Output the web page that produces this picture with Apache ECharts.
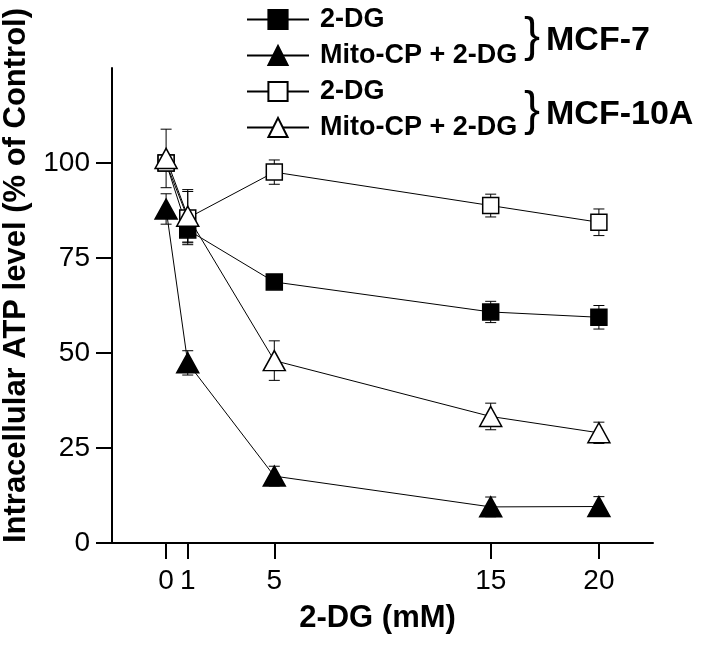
<!DOCTYPE html>
<html>
<head>
<meta charset="utf-8">
<script src="https://cdn.jsdelivr.net/npm/echarts@6/dist/echarts.min.js"></script>
<style>html,body{margin:0;padding:0;background:#fff}#c{width:704px;height:648px}</style>
</head>
<body>
<div id="c"></div>
<script>
// ---- data ----
var doses = [0, 1, 5, 15, 20];
var xTicks = [0, 1, 5, 15, 20];
var yTicks = [0, 25, 50, 75, 100];
var mcf7_2dg = [100, 82.4, 68.7, 60.8, 59.4];
var mcf7_2dg_sd = [1.5, 3.2, 1.5, 2.8, 3.1];
var mcf7_mito = [87.9, 47.4, 17.6, 9.5, 9.6];
var mcf7_mito_sd = [4.0, 3.2, 2.6, 2.6, 2.6];
var mcf10a_2dg = [100, 85.5, 97.6, 88.8, 84.4];
var mcf10a_2dg_sd = [1.5, 7.0, 3.2, 3.0, 3.5];
var mcf10a_mito = [101.2, 86.0, 48.0, 33.3, 29.0];
var mcf10a_mito_sd = [7.7, 7.0, 5.2, 3.5, 2.8];
var seriesNames = ['2-DG|MCF-7', 'Mito-CP + 2-DG|MCF-7', '2-DG|MCF-10A', 'Mito-CP + 2-DG|MCF-10A'];
var groupLabels = ['MCF-7', 'MCF-10A'];

var FONT = 'Liberation Sans, Arial, sans-serif';

function pts(vals) { return doses.map(function (d, i) { return [d, vals[i]]; }); }

function lineSeries(name, vals, symbol, size, filled) {
  return {
    type: 'line', name: name, data: pts(vals), z: 3,
    symbol: symbol, symbolSize: size, showAllSymbol: true,
    lineStyle: { color: '#000', width: 1 },
    itemStyle: { color: filled ? '#000' : '#fff', borderColor: '#000', borderWidth: 1.5 },
    emphasis: { disabled: true }, animation: false
  };
}

function errSeries(vals, sds) {
  return {
    type: 'custom', silent: true, z: 1, animation: false,
    data: doses.map(function (d, i) { return [d, vals[i], sds[i]]; }),
    encode: { x: 0, y: 1 },
    renderItem: function (params, api) {
      var x = api.value(0), y = api.value(1), e = api.value(2);
      var t = api.coord([x, y + e]), b = api.coord([x, y - e]);
      var hw = 5.5, st = { stroke: '#000', lineWidth: 1 };
      return { type: 'group', children: [
        { type: 'line', shape: { x1: t[0], y1: t[1], x2: b[0], y2: b[1] }, style: st },
        { type: 'line', shape: { x1: t[0] - hw, y1: t[1], x2: t[0] + hw, y2: t[1] }, style: st },
        { type: 'line', shape: { x1: b[0] - hw, y1: b[1], x2: b[0] + hw, y2: b[1] }, style: st }
      ]};
    }
  };
}

var chart = echarts.init(document.getElementById('c'), null, { renderer: 'canvas' });
chart.setOption({
  animation: false,
  backgroundColor: '#fff',
  grid: { left: 112, top: 68, right: 51, bottom: 105, containLabel: false, outerBoundsMode: 'none' },
  legend: {
    orient: 'vertical', left: 241, top: 1,
    itemWidth: 62, itemHeight: 24, itemGap: 9,
    data: seriesNames,
    formatter: function (n) { return n.split('|')[0]; },
    textStyle: { fontFamily: FONT, fontSize: 27, fontWeight: 'bold', color: '#000', padding: [0, 0, 0, 6] },
    selectedMode: false
  },
  xAxis: {
    type: 'value', min: -2.5, max: 22.5,
    name: '2-DG (mM)', nameLocation: 'middle', nameGap: 60,
    nameTextStyle: { fontFamily: FONT, fontSize: 31, fontWeight: 'bold', color: '#000', padding: [0, 10, 0, 0] },
    axisLine: { show: true, onZero: false, lineStyle: { color: '#000', width: 2 } },
    axisTick: { show: true, inside: false, length: 16, lineStyle: { color: '#000', width: 2 }, customValues: xTicks },
    axisLabel: { fontFamily: FONT, fontSize: 28, color: '#000', margin: 24, customValues: xTicks },
    splitLine: { show: false }
  },
  yAxis: {
    type: 'value', min: 0, max: 125,
    name: 'Intracellular ATP level (% of Control)', nameLocation: 'middle', nameGap: 75,
    nameTextStyle: { fontFamily: FONT, fontSize: 31, fontWeight: 'bold', color: '#000', padding: [0, 0, 0, 60] },
    axisLine: { show: true, onZero: false, lineStyle: { color: '#000', width: 2 } },
    axisTick: { show: true, inside: false, length: 16, lineStyle: { color: '#000', width: 2 }, customValues: yTicks },
    axisLabel: { fontFamily: FONT, fontSize: 28, color: '#000', margin: 22, customValues: yTicks },
    splitLine: { show: false }
  },
  graphic: [
    { type: 'text', left: 524, top: 14, style: { text: '}', font: '48px ' + FONT, fill: '#000' } },
    { type: 'text', left: 546, top: 24, style: { text: groupLabels[0], font: 'bold 34px ' + FONT, fill: '#000' } },
    { type: 'text', left: 524, top: 88, style: { text: '}', font: '48px ' + FONT, fill: '#000' } },
    { type: 'text', left: 546, top: 98, style: { text: groupLabels[1], font: 'bold 34px ' + FONT, fill: '#000' } }
  ],
  series: [
    errSeries(mcf7_2dg, mcf7_2dg_sd),
    errSeries(mcf7_mito, mcf7_mito_sd),
    errSeries(mcf10a_2dg, mcf10a_2dg_sd),
    errSeries(mcf10a_mito, mcf10a_mito_sd),
    lineSeries(seriesNames[0], mcf7_2dg, 'rect', 16, true),
    lineSeries(seriesNames[1], mcf7_mito, 'triangle', [22, 20], true),
    lineSeries(seriesNames[2], mcf10a_2dg, 'rect', 16, false),
    lineSeries(seriesNames[3], mcf10a_mito, 'triangle', [22, 20], false)
  ]
});
</script>
</body>
</html>
